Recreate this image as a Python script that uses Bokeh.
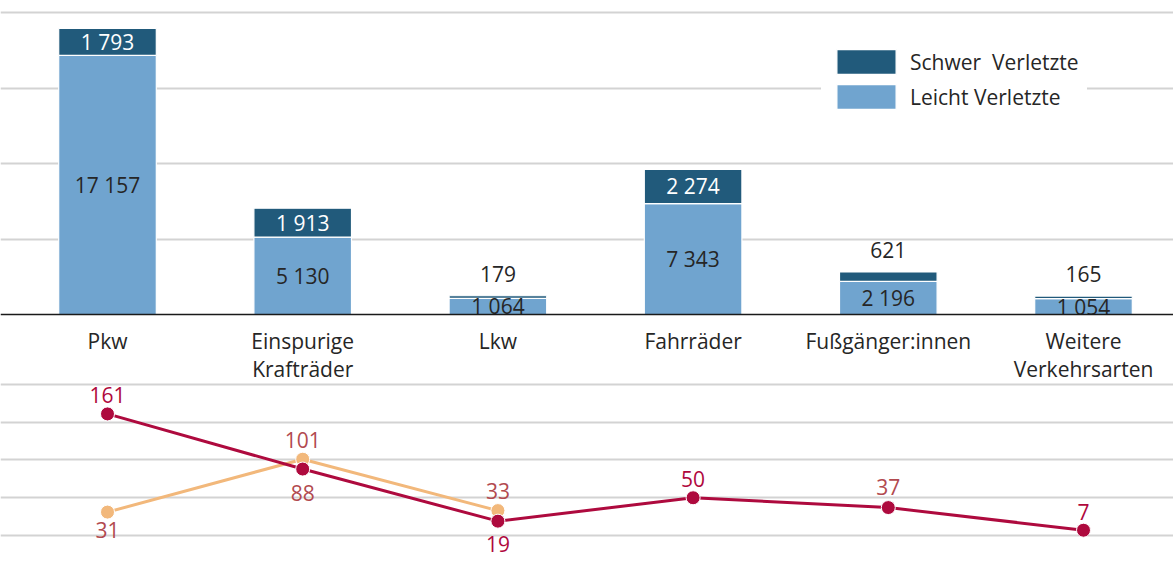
from bokeh.plotting import figure
from bokeh.models import (ColumnDataSource, Range1d, FixedTicker, Grid, Span,
                          Legend, LegendItem)
from bokeh.layouts import column
from bokeh.core.properties import value
from bokeh.embed import file_html
from bokeh.resources import INLINE

# ---------------- data ----------------
categories = ["Pkw", "Einspurige\nKrafträder", "Lkw", "Fahrräder",
              "Fußgänger:innen", "Weitere\nVerkehrsarten"]
leicht = [17157, 5130, 1064, 7343, 2196, 1054]
schwer = [1793, 1913, 179, 2274, 621, 165]
series_red = [161, 88, 19, 50, 37, 7]
series_orange = [31, 101, 33]
bar_ticks = [5000, 10000, 15000, 20000]
line_ticks = [0, 50, 100, 150, 200]

# ---------------- style ----------------
FONT = value("Open Sans")
FS = "21px"
DARK = "#215a7b"
LIGHT = "#70a4cf"
RED = "#ae0a3e"
ORANGE = "#f2b87b"
RED_LBL = "#b0083d"
BROWN_LBL = "#b24a4f"
GRID = "#d3d3d3"
TXT = "#262626"

def fmt(v):
    return f"{v:,}".replace(",", " ")

def strip_grids(p):
    p.center = [r for r in p.center if not isinstance(r, Grid)]

W = 1173
xs = list(range(len(categories)))
x0 = -107 / 195.2
xr = Range1d(x0, x0 + W / 195.2)

# ---------------- top: stacked bars ----------------
top = figure(width=W, height=382, x_range=xr, y_range=Range1d(-4503, 20795),
             output_backend="svg", toolbar_location=None,
             x_axis_location=None, y_axis_location=None,
             min_border=0, outline_line_color=None)
strip_grids(top)
top.add_layout(Grid(dimension=1, ticker=FixedTicker(ticks=bar_ticks),
                    grid_line_color=GRID, grid_line_width=2))

src = ColumnDataSource(dict(x=xs, leicht=leicht, schwer=schwer))
rs = top.vbar_stack(["leicht", "schwer"], x="x", width=0.5, color=[LIGHT, DARK],
                    line_color="white", line_width=1.2, source=src)

top.add_layout(Span(location=0, dimension="width", line_color="#1a1a1a", line_width=1.5))

# light labels (centred)
top.text(x=xs, y=[v / 2 for v in leicht], text=[fmt(v) for v in leicht],
         text_align="center", text_baseline="middle", text_font=FONT,
         text_font_size=FS, text_color=TXT)

# dark labels: inside if tall enough, else above
in_x, in_y, in_t, out_x, out_y, out_t = [], [], [], [], [], []
for i, (l, s) in enumerate(zip(leicht, schwer)):
    if s > 1000:
        in_x.append(i); in_y.append(l + s / 2); in_t.append(fmt(s))
    else:
        out_x.append(i); out_y.append(l + s); out_t.append(fmt(s))
top.text(x=in_x, y=in_y, text=in_t, text_align="center", text_baseline="middle",
         text_font=FONT, text_font_size=FS, text_color="white")
top.text(x=out_x, y=out_y, text=out_t, text_align="center", text_baseline="middle",
         y_offset=-22, text_font=FONT, text_font_size=FS, text_color=TXT)

# category labels
line1 = [c.split("\n")[0] for c in categories]
line2 = [c.split("\n")[1] if "\n" in c else "" for c in categories]
top.text(x=xs, y=[0] * len(xs), text=line1, text_align="center", text_baseline="middle",
         y_offset=26, text_font=FONT, text_font_size=FS, text_color=TXT)
top.text(x=xs, y=[0] * len(xs), text=line2, text_align="center", text_baseline="middle",
         y_offset=54, text_font=FONT, text_font_size=FS, text_color=TXT)

legend = Legend(items=[LegendItem(label="Schwer  Verletzte", renderers=[rs[1]]),
                       LegendItem(label="Leicht Verletzte", renderers=[rs[0]])],
                location=(821, 262), glyph_width=74, glyph_height=31, spacing=4,
                padding=8, margin=0, label_standoff=7, border_line_alpha=0,
                background_fill_color="white", background_fill_alpha=1,
                label_text_font="Open Sans", label_text_font_size=FS,
                label_text_color=TXT)
top.add_layout(legend)

# ---------------- bottom: lines ----------------
bot = figure(width=W, height=187, x_range=xr, y_range=Range1d(-45.0, 202.6),
             output_backend="svg", toolbar_location=None,
             x_axis_location=None, y_axis_location=None,
             min_border=0, outline_line_color=None)
strip_grids(bot)
bot.add_layout(Grid(dimension=1, ticker=FixedTicker(ticks=line_ticks),
                    grid_line_color=GRID, grid_line_width=2))

xo = xs[:len(series_orange)]
bot.line(xo, series_orange, line_color=ORANGE, line_width=3)
bot.scatter(xo, series_orange, size=14, fill_color=ORANGE, line_color="white", line_width=1)
bot.line(xs, series_red, line_color=RED, line_width=3)
bot.scatter(xs, series_red, size=14, fill_color=RED, line_color="white", line_width=1)

# labels: placement (above/below) and colours
red_offsets = [-19, 24, 23, -19, -21, -18]
red_colors = [RED_LBL, BROWN_LBL, RED_LBL, RED_LBL, BROWN_LBL, RED_LBL]
orange_offsets = [18, -19, -20]
for i, v in enumerate(series_red):
    bot.text(x=[xs[i]], y=[v], text=[str(v)], text_align="center", text_baseline="middle",
             y_offset=red_offsets[i], text_font=FONT, text_font_size=FS,
             text_color=red_colors[i])
for i, v in enumerate(series_orange):
    bot.text(x=[xo[i]], y=[v], text=[str(v)], text_align="center", text_baseline="middle",
             y_offset=orange_offsets[i], text_font=FONT, text_font_size=FS,
             text_color=BROWN_LBL)

layout = column(top, bot, spacing=0)
open("out.html", "w").write(file_html(layout, INLINE))
